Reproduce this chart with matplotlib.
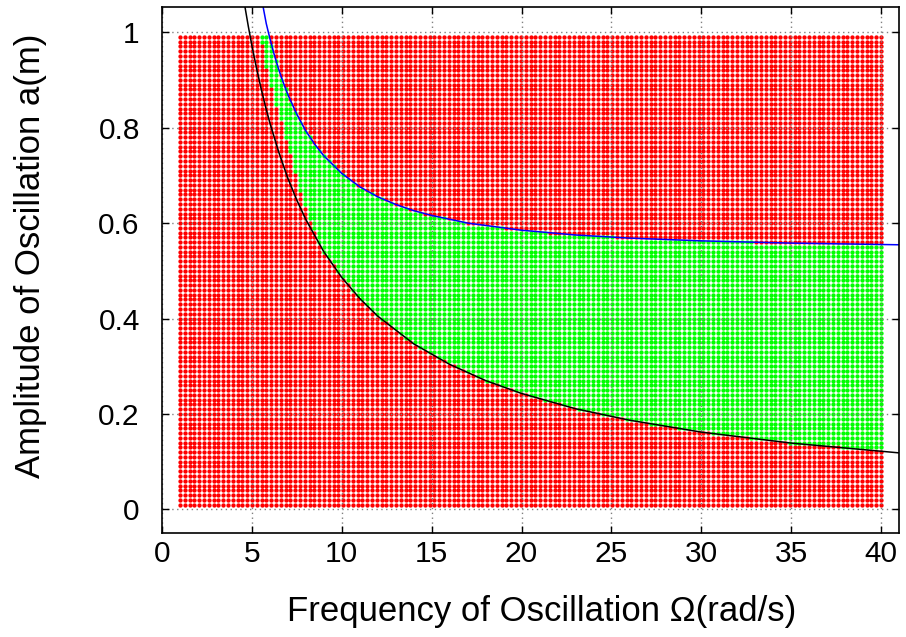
import numpy as np
import matplotlib
matplotlib.use("Agg")
import matplotlib.pyplot as plt

plt.rcParams['font.family'] = ['Liberation Sans', 'DejaVu Sans']

# Sampled parameter space: frequency (rad/s) and amplitude (m)
omega_samples = np.linspace(1.0, 40.0, 147)
amp_samples = np.round(np.arange(1, 100) * 0.01, 2)

# Lower stability limit (black curve)
lower_omega = [4.50, 4.62, 4.80, 5.00, 5.25, 5.50, 5.75, 6.00, 6.50, 7.00, 7.50, 8.00,
               9.00, 10.0, 11.0, 12.0, 14.0, 16.0, 18.0, 20.0, 23.0, 26.0, 30.0, 35.0, 41.0]
lower_amp = [1.080, 1.052, 1.0125, 0.972, 0.926, 0.884, 0.845, 0.810, 0.748, 0.694, 0.648, 0.6075,
             0.540, 0.486, 0.442, 0.405, 0.347, 0.304, 0.270, 0.243, 0.211, 0.187, 0.162, 0.139, 0.1185]

# Upper stability limit (blue curve)
upper_omega = [5.50, 5.63, 5.80, 6.00, 6.25, 6.50, 6.75, 7.00, 7.50, 8.00, 8.50, 9.00, 10.0,
               11.0, 12.0, 13.0, 14.0, 15.0, 17.0, 20.0, 23.0, 26.0, 30.0, 35.0, 41.0]
upper_amp = [1.071, 1.052, 1.018, 0.987, 0.952, 0.921, 0.894, 0.8695, 0.828, 0.793, 0.765, 0.741, 0.704,
             0.676, 0.655, 0.639, 0.626, 0.616, 0.600, 0.585, 0.575, 0.5685, 0.5627, 0.558, 0.5545]

# Left edge of the stable set at large amplitudes
edge_amp = [0.00, 0.55, 0.62, 0.70, 0.80, 0.88, 0.99, 1.00]
edge_omega = [0.00, 8.84, 8.05, 7.45, 6.70, 6.10, 5.45, 5.40]

x_ticks = [0, 5, 10, 15, 20, 25, 30, 35, 40]
y_ticks = [0, 0.2, 0.4, 0.6, 0.8, 1.0]
y_tick_labels = ["0", "0.2", "0.4", "0.6", "0.8", "1"]

W, A = np.meshgrid(omega_samples, amp_samples)
low = np.interp(W, lower_omega, lower_amp)
up = np.interp(W, upper_omega, upper_amp)
edge = np.interp(A, edge_amp, edge_omega)
stable = (A > low) & (A < up) & (W > edge)

fig = plt.figure(figsize=(9.06, 6.37), dpi=100)
ax = fig.add_axes([0.1788, 0.1628, 0.8135, 0.8257])

ax.plot(W[~stable], A[~stable], linestyle='none', marker='o', ms=3.1,
        mec='none', mfc='#ff0000', zorder=1)
ax.plot(W[stable], A[stable], linestyle='none', marker='o', ms=3.1,
        mec='none', mfc='#00ff00', zorder=1)

ax.plot(lower_omega, lower_amp, color='black', lw=1.1, zorder=4)
ax.plot(upper_omega, upper_amp, color='#0000ff', lw=1.1, zorder=4)

ax.set_xlim(0, 41)
ax.set_ylim(-0.05, 1.052)
ax.set_xticks(x_ticks)
ax.set_yticks(y_ticks)
ax.set_yticklabels(y_tick_labels)
ax.tick_params(direction='in', length=5, width=1, top=True, right=True,
               labelsize=21.5, color='black')
ax.tick_params(axis='x', pad=5)
ax.tick_params(axis='y', pad=16)
ax.grid(True, linestyle=(0, (1, 2.5)), color='#808080', lw=1.0, zorder=3)
ax.set_axisbelow(False)
for s in ax.spines.values():
    s.set_linewidth(1.2)
    s.set_zorder(5)

ax.set_xlabel('Frequency of Oscillation \u03a9(rad/s)', fontsize=25)
ax.set_ylabel('Amplitude of Oscillation a(m)', fontsize=25)
ax.xaxis.set_label_coords(0.5156, -0.1496)
ax.yaxis.set_label_coords(-0.179, 0.527)
ax.xaxis.label.set_va('center')
ax.yaxis.label.set_va('center')

fig.savefig('out.png', dpi=100)
